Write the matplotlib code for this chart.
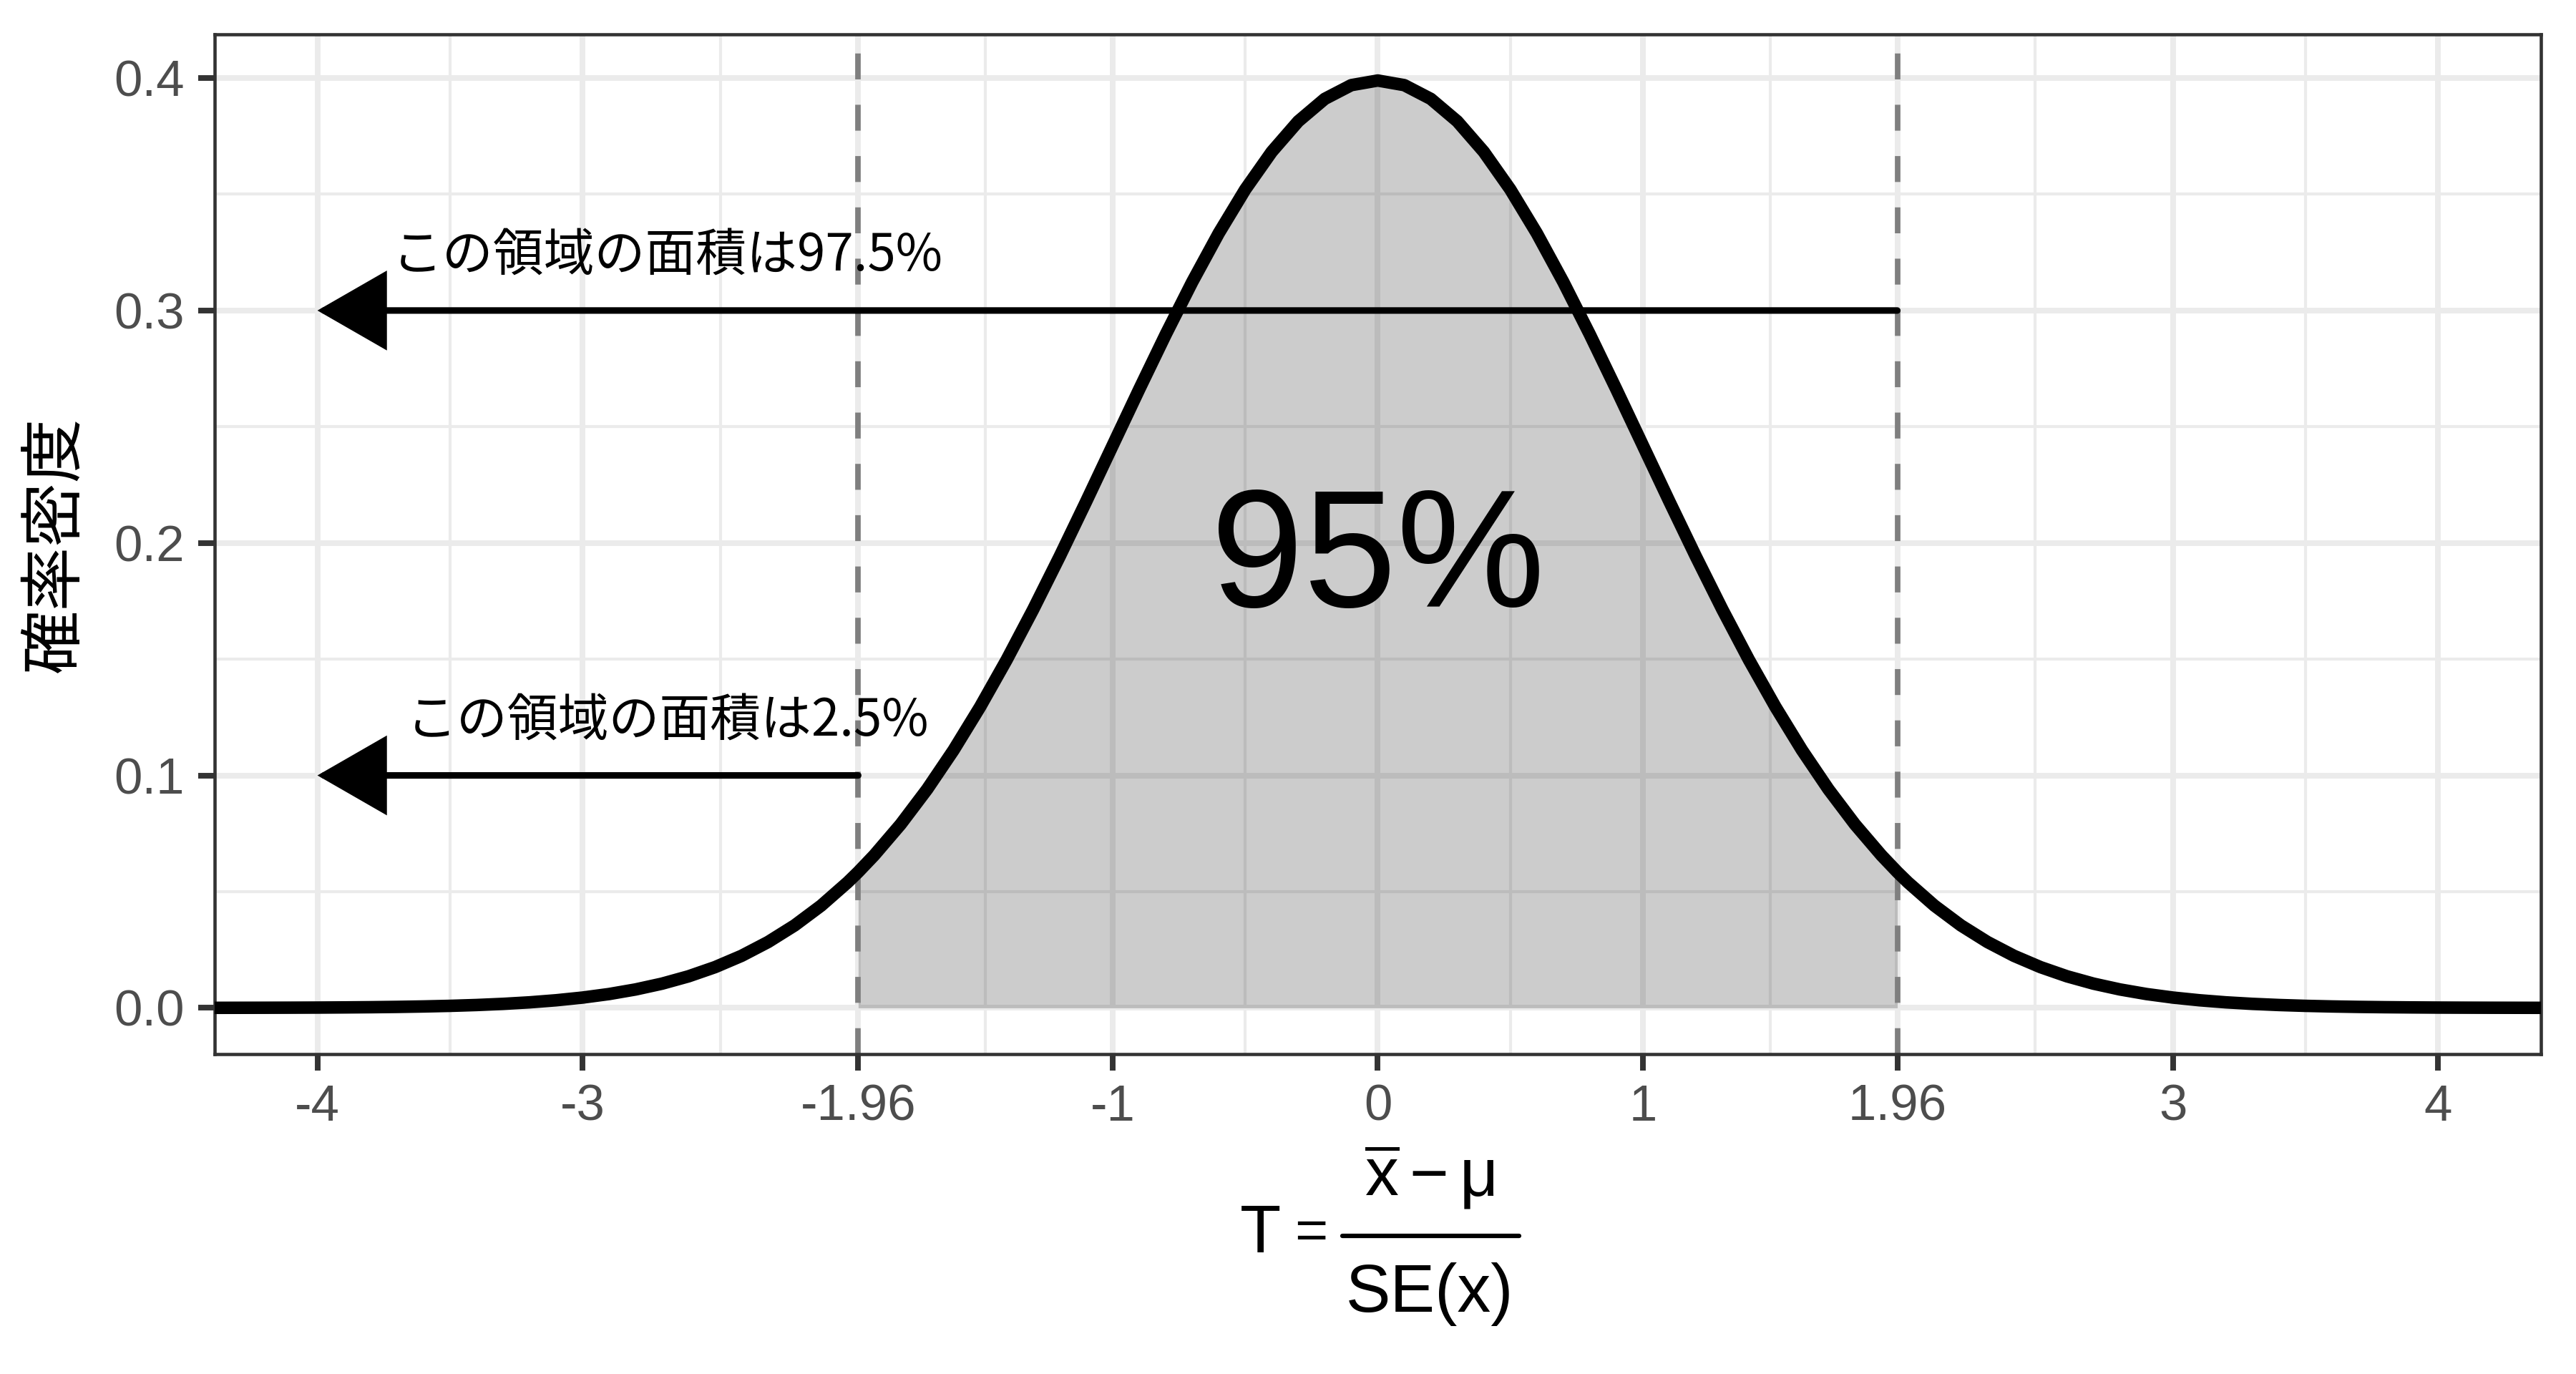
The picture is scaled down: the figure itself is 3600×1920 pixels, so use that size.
import matplotlib
matplotlib.use('Agg')
import matplotlib.pyplot as plt
from matplotlib.lines import Line2D
import numpy as np

# standard normal density (x >= 0 half; the curve is symmetric)
half_z = [0.0, 0.1, 0.2, 0.3, 0.4, 0.5, 0.6, 0.7, 0.8, 0.9,
          1.0, 1.1, 1.2, 1.3, 1.4, 1.5, 1.6, 1.7, 1.8, 1.9, 1.96,
          2.0, 2.1, 2.2, 2.3, 2.4, 2.5, 2.6, 2.7, 2.8, 2.9,
          3.0, 3.1, 3.2, 3.3, 3.4, 3.5, 3.6, 3.7, 3.8, 3.9,
          4.0, 4.1, 4.2, 4.3, 4.4]
half_density = [0.39894, 0.39695, 0.39104, 0.38139, 0.36827, 0.35207, 0.33322, 0.31225, 0.28969, 0.26609,
                0.24197, 0.21785, 0.19419, 0.17137, 0.14973, 0.12952, 0.11092, 0.09405, 0.07895, 0.06562, 0.05844,
                0.05399, 0.04398, 0.03547, 0.02833, 0.02239, 0.01753, 0.01358, 0.01042, 0.00792, 0.00595,
                0.00443, 0.00327, 0.00238, 0.00172, 0.00123, 0.00087, 0.00061, 0.00042, 0.00029, 0.00020,
                0.00013, 0.00009, 0.00006, 0.00004, 0.00002]

critical = 1.96
x_breaks = [-4, -3, -1.96, -1, 0, 1, 1.96, 3, 4]
x_labels = ['-4', '-3', '-1.96', '-1', '0', '1', '1.96', '3', '4']
x_minor = [-3.5, -2.48, -1.48, -0.5, 0.5, 1.48, 2.48, 3.5]
y_breaks = [0.0, 0.1, 0.2, 0.3, 0.4]
y_labels = ['0.0', '0.1', '0.2', '0.3', '0.4']
y_minor = [0.05, 0.15, 0.25, 0.35]

# arrows: (start x, end x, y) and their labels
arrow_from = [1.96, -1.96]
arrow_to = [-4, -4]
arrow_y = [0.3, 0.1]
arrow_text = ['この領域の面積は97.5%', 'この領域の面積は2.5%']
center_text = '95%'

z = np.array([-v for v in half_z[:0:-1]] + half_z)
dens = np.array(half_density[:0:-1] + half_density)

plt.rcParams['font.family'] = ['Liberation Sans', 'Noto Sans CJK JP']
plt.rcParams['mathtext.fontset'] = 'custom'
plt.rcParams['mathtext.rm'] = 'Liberation Sans'
plt.rcParams['mathtext.it'] = 'Liberation Sans'
plt.rcParams['mathtext.sf'] = 'Liberation Sans'
plt.rcParams['mathtext.bf'] = 'Liberation Sans:bold'

W, H = 3600, 1920
fig = plt.figure(figsize=(12, 6.4), dpi=300)
ax = fig.add_axes([0.0833, 0.2328, 0.9031, 0.7422])

ax.set_xlim(-4.388, 4.388)
ax.set_ylim(-0.0199, 0.4188)
ax.set_xticks(x_breaks)
ax.set_xticklabels(x_labels)
ax.set_xticks(x_minor, minor=True)
ax.set_yticks(y_breaks)
ax.set_yticklabels(y_labels)
ax.set_yticks(y_minor, minor=True)

ax.set_axisbelow(True)
ax.grid(which='major', color='#ebebeb', lw=1.9)
ax.grid(which='minor', color='#ebebeb', lw=1.0)
ax.tick_params(which='major', length=5.5, width=1.9, color='#333333',
               labelsize=17, labelcolor='#4d4d4d', pad=4.5)
ax.tick_params(which='minor', length=0)
for s in ax.spines.values():
    s.set_color('#333333')
    s.set_linewidth(1.1)

# shaded 95% region
inside = (z >= -critical) & (z <= critical)
ax.fill_between(z, dens, 0, where=inside, color='black', alpha=0.2, lw=0, zorder=1)

for v in [-critical, critical]:
    ax.axvline(v, color='#7f7f7f', lw=1.85, dashes=(4.7, 4.6), zorder=2)

ax.plot(z, dens, color='black', lw=4.2, zorder=3)

for x0, x1, yy, lab in zip(arrow_from, arrow_to, arrow_y, arrow_text):
    ax.annotate('', xy=(x1, yy), xytext=(x0, yy),
                arrowprops=dict(arrowstyle='-|>,head_length=20,head_width=11.5',
                                mutation_scale=1, color='black', lw=2.2,
                                shrinkA=0, shrinkB=0, joinstyle='miter'),
                zorder=4)
    ax.text(-2.68, yy + 0.017, lab, ha='center', va='baseline', fontsize=17,
            family=['Noto Sans CJK JP', 'Liberation Sans'], color='black', zorder=5)

ax.text(0, 0.1726, center_text, ha='center', va='baseline', fontsize=56,
        color='black', zorder=5)

# x axis title: T = (x̄ - μ) / SE(x), built as a stacked fraction
fig.text(1733 / W, 1 - 1750 / H, 'T', ha='left', va='baseline', fontsize=22.5)
fig.text(1832 / W, 1 - 1745 / H, '=', ha='center', va='baseline', fontsize=19)
fig.text(1998 / W, 1 - 1672 / H, r'$\overline{\mathrm{x}} - \mu$', ha='center',
         va='baseline', fontsize=22.5)
fig.add_artist(Line2D([1876 / W, 2123 / W], [1 - 1727 / H, 1 - 1727 / H],
                      transform=fig.transFigure, color='black', lw=1.5,
                      solid_capstyle='round'))
fig.text(1998 / W, 1 - 1833 / H, 'SE(x)', ha='center', va='baseline', fontsize=22.5)

fig.text(0.0214, 0.604, '確率密度', rotation=90, ha='center', va='center',
         fontsize=21.5, family=['Noto Sans CJK JP', 'Liberation Sans'], color='black')

fig.savefig('out.png', dpi=300)
